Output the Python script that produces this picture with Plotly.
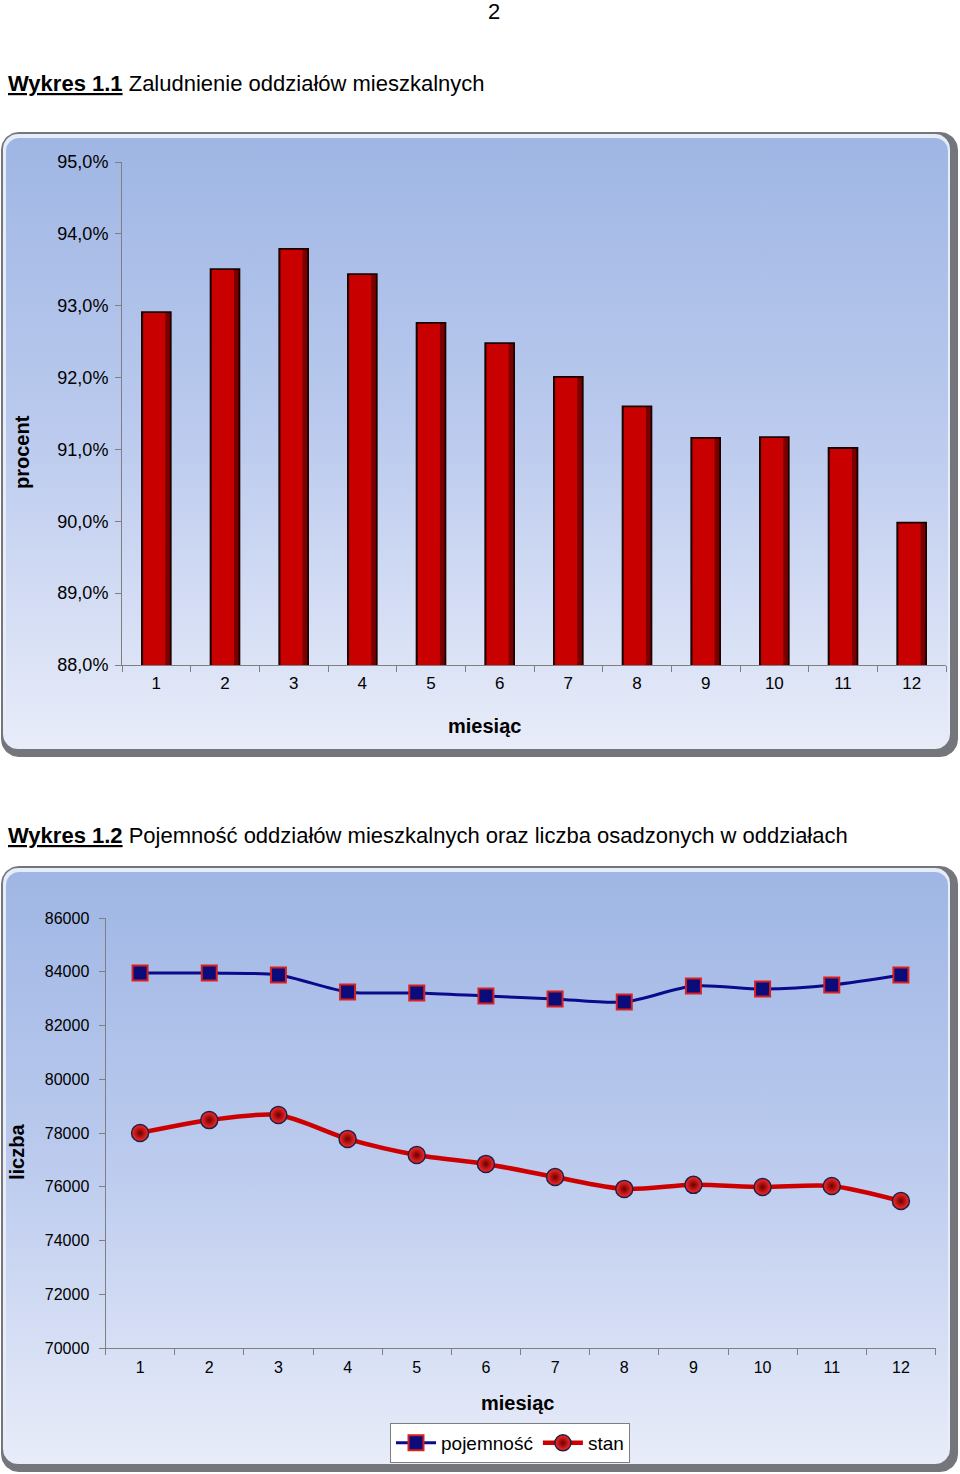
import numpy as np
import plotly.graph_objects as go

# ---------------- data ----------------
months = [str(i) for i in range(1, 13)]
zaludnienie = [0.9291, 0.9351, 0.9379, 0.9344, 0.9276, 0.9248,
               0.9201, 0.9160, 0.9116, 0.9117, 0.9102, 0.8998]
pojemnosc = [83950, 83950, 83880, 83250, 83210, 83100,
             82990, 82875, 83470, 83360, 83510, 83880]
stan = [78000, 78480, 78670, 77780, 77180, 76850,
        76360, 75920, 76070, 75990, 76030, 75470]

W, H = 960, 1474
FONT = "Liberation Sans, Arial, sans-serif"


def px(x):
    return x / W


def py(y):
    return 1 - y / H


def rrect(x0, y0, x1, y1, r, n=12):
    pts = []
    corners = [(x1 - r, y0 + r, -90, 0), (x1 - r, y1 - r, 0, 90),
               (x0 + r, y1 - r, 90, 180), (x0 + r, y0 + r, 180, 270)]
    for cx, cy, a0, a1 in corners:
        for t in np.linspace(np.radians(a0), np.radians(a1), n):
            pts.append((cx + r * np.cos(t), cy + r * np.sin(t)))
    pts.append(pts[0])
    return [p[0] for p in pts], [p[1] for p in pts]


fig = go.Figure()

# ---------------- background boxes (paper-like axis x/y) ----------------
for (x0, y0, x1, y1) in [(1, 132, 958, 757), (1, 866, 958, 1472)]:
    xs, ys = rrect(x0, y0, x1, y1, 18)
    fig.add_trace(go.Scatter(x=xs, y=ys, mode="lines", fill="toself",
                             fillcolor="#75767c", line=dict(width=0),
                             hoverinfo="skip", showlegend=False,
                             xaxis="x", yaxis="y"))
    xs, ys = rrect(x0 + 2, y0 + 2, x1 - 8, y1 - 8, 15)
    fig.add_trace(go.Scatter(x=xs, y=ys, mode="lines", fill="toself",
                             fillcolor="#e6ecf8", line=dict(width=0),
                             hoverinfo="skip", showlegend=False,
                             xaxis="x", yaxis="y"))
    xs, ys = rrect(x0 + 5, y0 + 6, x1 - 10, y1 - 10, 13)
    fig.add_trace(go.Scatter(x=xs, y=ys, mode="lines", fill="toself",
                             line=dict(width=0),
                             fillgradient=dict(type="vertical",
                                               colorscale=[[0, "#9fb6e4"], [0.5, "#bccbee"], [1, "#e8ecf9"]],
                                               start=y0 + 6, stop=y1 - 10),
                             hoverinfo="skip", showlegend=False,
                             xaxis="x", yaxis="y"))

# ---------------- chart 1: bars ----------------
fig.add_trace(go.Bar(x=months, y=zaludnienie, width=0.42, marker=dict(color="#7a0000", line=dict(width=0)),
                     showlegend=False, xaxis="x2", yaxis="y2", hoverinfo="skip"))
fig.add_trace(go.Bar(x=months, y=zaludnienie, width=0.32, offset=-0.19,
                     marker=dict(color="#c80000", line=dict(width=0)),
                     showlegend=False, xaxis="x2", yaxis="y2", hoverinfo="skip"))
fig.add_trace(go.Bar(x=months, y=zaludnienie, width=0.42,
                     marker=dict(color="rgba(0,0,0,0)", line=dict(width=1.8, color="#1a0000")),
                     showlegend=False, xaxis="x2", yaxis="y2", name="zaludnienie"))

# ---------------- chart 2: lines ----------------
fig.add_trace(go.Scatter(x=months, y=pojemnosc, name="pojemność", mode="lines+markers",
                         line=dict(color="#0a0a8a", width=3, shape="spline", smoothing=0.8),
                         marker=dict(symbol="square", size=15, color="#0b0b7a",
                                     line=dict(color="#d82020", width=2)),
                         xaxis="x3", yaxis="y3"))
fig.add_trace(go.Scatter(x=months, y=stan, name="stan", mode="lines+markers",
                         line=dict(color="#cc0000", width=4.5, shape="spline", smoothing=0.8),
                         marker=dict(symbol="circle", size=17, color="#ff2a2a",
                                     gradient=dict(type="radial", color="#6a0000"),
                                     line=dict(color="#202048", width=1.5)),
                         xaxis="x3", yaxis="y3"))

axis_common = dict(showgrid=False, zeroline=False, showline=True, linecolor="#7f7f7f",
                   linewidth=1, ticks="outside", ticklen=6, tickcolor="#7f7f7f",
                   automargin=False,
                   tickfont=dict(family=FONT, size=17, color="#000"), fixedrange=True)


def ann(text, x, y, size, xanchor="center", angle=0):
    return dict(text=text, x=px(x), y=py(y), xref="paper", yref="paper", showarrow=False,
                xanchor=xanchor, yanchor="middle", textangle=angle,
                font=dict(family=FONT, size=size, color="#000"))


annotations = [
    ann("2", 494, 12, 22),
    ann("<b><u>Wykres 1.1</u></b> Zaludnienie oddziałów mieszkalnych", 6, 84, 22, xanchor="left"),
    ann("<b><u>Wykres 1.2</u></b> Pojemność oddziałów mieszkalnych oraz liczba osadzonych w oddziałach",
        6, 835, 22, xanchor="left"),
    ann("<b>procent</b>", 22, 452, 20, angle=-90),
    ann("<b>miesiąc</b>", 484, 726, 20),
    ann("<b>liczba</b>", 17, 1152, 20, angle=-90),
    ann("<b>miesiąc</b>", 517, 1403, 20),
]

fig.update_layout(
    width=W, height=H, margin=dict(l=0, r=0, t=0, b=0, pad=0, autoexpand=False),
    paper_bgcolor="white", plot_bgcolor="rgba(0,0,0,0)",
    separators=",.", barmode="overlay",
    font=dict(family=FONT, color="#000"),
    xaxis=dict(domain=[0, 1], range=[0, W], visible=False, fixedrange=True, automargin=False),
    yaxis=dict(domain=[0, 1], range=[H, 0], visible=False, fixedrange=True, automargin=False),
    xaxis2=dict(domain=[px(122), px(946)], anchor="y2", type="category", tickson="boundaries",
                range=[-0.5, 11.5], ticklabelstandoff=3, **axis_common),
    yaxis2=dict(domain=[py(665), py(162)], anchor="x2", range=[0.88, 0.95], dtick=0.01,
                tickformat=".1%", ticklabelstandoff=3,
                **{**axis_common, "tickfont": dict(family=FONT, size=18, color="#000")}),
    xaxis3=dict(domain=[px(105.5), px(935.5)], anchor="y3", type="category", tickson="boundaries",
                range=[-0.5, 11.5], ticklabelstandoff=5,
                **{**axis_common, "tickfont": dict(family=FONT, size=16, color="#000")}),
    yaxis3=dict(domain=[py(1348), py(918)], anchor="x3", range=[70000, 86000], dtick=2000,
                tickformat="d", ticklabelstandoff=6,
                **{**axis_common, "tickfont": dict(family=FONT, size=16, color="#000")}),
    legend=dict(orientation="h", x=px(510), y=py(1423), xanchor="center", yanchor="top",
                itemwidth=40,
                bgcolor="white", bordercolor="#7f7f7f", borderwidth=1,
                font=dict(family=FONT, size=19, color="#000")),
    annotations=annotations,
    showlegend=True,
)

fig.write_html("out.html")
